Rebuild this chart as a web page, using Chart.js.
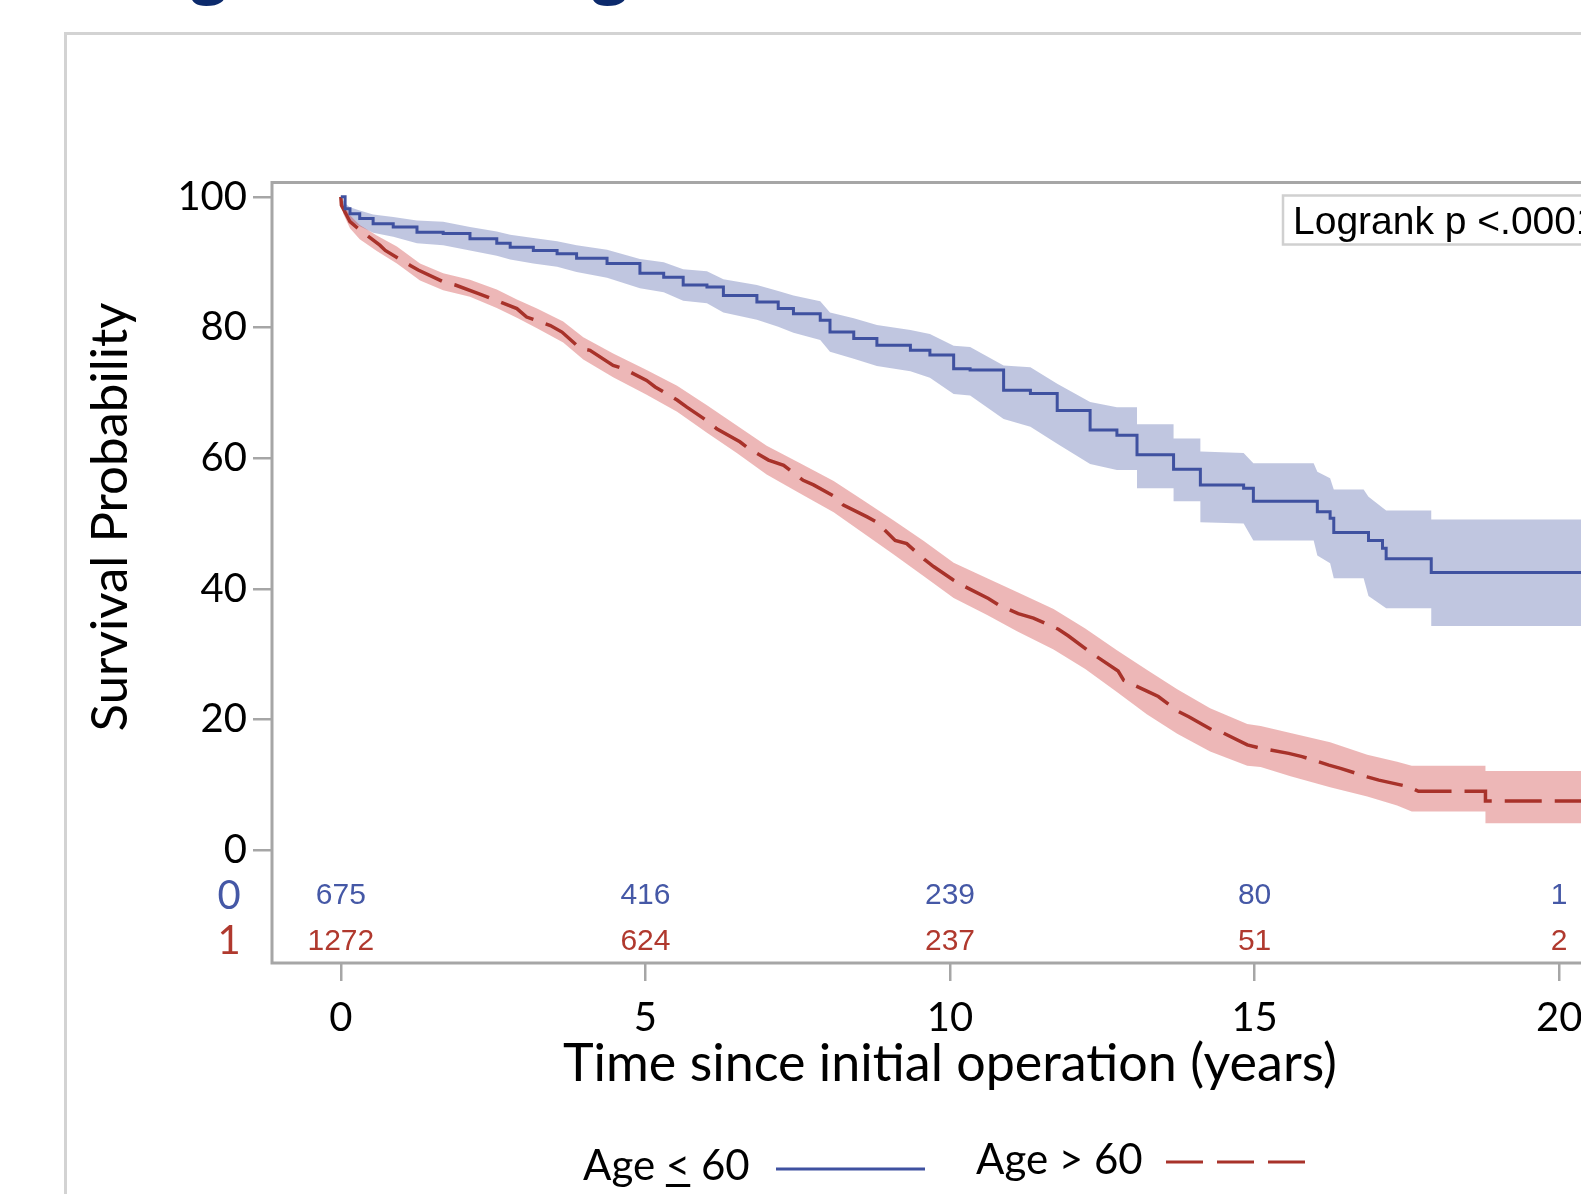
<!DOCTYPE html>
<html>
<head>
<meta charset="utf-8">
<script src="https://cdn.jsdelivr.net/npm/chart.js@4"></script>
<style>
html,body{margin:0;padding:0;background:#fff;overflow:hidden;width:1581px;height:1194px;}
#panel{position:absolute;left:64px;top:32px;width:2000px;height:2000px;border:3px solid #d3d3d3;}
#wrap{position:absolute;left:0;top:0;width:1660px;height:1194px;}
</style>
</head>
<body>
<div id="panel"></div>
<div id="wrap"><canvas id="kmChart" width="1660" height="1194"></canvas></div>
<script>
// Age <= 60 (group 0), step curve
const blueTime=[0,0.07,0.15,0.31,0.53,0.86,1.25,1.68,2.12,2.56,2.78,3.16,3.55,3.87,4.37,4.91,5.30,5.62,6.01,6.28,6.83,7.18,7.43,7.87,8.03,8.42,8.80,9.35,9.67,10.06,10.33,10.88,11.32,11.76,12.30,12.74,13.07,13.67,14.11,14.82,14.98,16.03,16.24,16.30,16.87,17.10,17.16,17.90,21.2];
const blueSurv=[100,98.2,97.4,96.7,95.9,95.4,94.6,94.4,93.6,92.9,92.3,91.8,91.3,90.6,89.8,88.3,87.7,86.5,86.2,84.9,83.9,82.9,82.1,81.1,79.3,78.3,77.3,76.5,75.8,73.7,73.5,70.4,69.9,67.3,64.3,63.5,60.5,58.3,55.9,55.4,53.4,51.8,50.8,48.6,47.4,46.2,44.6,42.5,42.5];
// confidence band, corners given where the steps are wide
const blueBandTime=[0,0.07,0.15,0.31,0.53,0.86,1.25,1.68,2.12,2.56,2.78,3.16,3.55,3.87,4.37,4.91,5.30,5.62,6.01,6.28,6.83,7.18,7.43,7.87,8.03,8.42,8.80,9.35,9.67,10.06,10.33,10.88,11.32,11.76,12.30,12.74,
    13.07,13.07,13.67,13.67,14.11,14.11,14.82,14.98,15.97,16.03,16.24,16.30,16.79,16.87,17.16,17.90,17.90,21.2];
const blueUpper=[100,99.0,98.4,97.9,97.3,96.9,96.4,96.2,95.4,94.7,94.2,93.7,93.2,92.6,91.9,90.5,90.0,88.9,88.6,87.4,86.5,85.6,84.9,84.0,82.3,81.4,80.4,79.6,79.0,77.2,77.0,74.2,73.9,71.4,68.6,67.8,
    67.8,65.2,65.2,63.0,63.0,61.0,60.8,59.2,59.2,57.9,56.9,55.2,55.2,54.1,52.0,52.0,50.6,50.6];
const blueLower=[100,97.3,96.3,95.5,94.5,93.9,92.9,92.6,91.8,91.0,90.4,89.8,89.3,88.5,87.6,86.0,85.4,84.1,83.7,82.3,81.2,80.1,79.2,78.1,76.3,75.2,74.1,73.3,72.3,69.8,69.6,66.0,64.8,62.2,59.1,58.2,
    58.2,55.4,55.4,53.4,53.4,50.2,50.0,47.4,47.4,45.1,43.9,41.6,41.6,38.9,37.0,37.0,34.3,34.3];

// Age > 60 (group 1), many small steps -> read densely
const redTime=[0,0.01,0.15,0.29,0.64,0.73,1.14,1.27,1.68,1.88,2.26,2.48,2.89,3.05,3.44,3.63,3.93,4.09,4.47,4.64,5.02,5.16,5.52,5.68,6.03,6.17,6.55,6.69,7.02,7.27,7.59,7.76,8.11,8.25,8.64,8.80,9.10,9.29,9.59,9.73,10.06,10.25,10.63,10.80,11.12,11.37,11.78,11.94,12.27,12.41,12.76,12.85,13.26,13.42,13.75,13.92,14.30,14.49,14.88,15.09,15.56,15.78,16.22,16.41,16.85,17.04,17.53,17.69,18.79,18.79,21.2];
const redSurv=[100,98.7,96.2,95.1,92.6,91.8,89.5,88.8,87.0,86.5,85.2,84.4,82.9,81.6,80.3,79.3,76.8,76.5,74.2,73.7,71.9,70.9,68.9,67.8,65.6,64.5,62.5,61.5,59.7,58.9,56.6,55.9,54.1,52.8,51.0,50.2,47.4,46.9,44.4,43.4,41.3,40.3,38.5,37.5,36.2,35.5,33.8,32.8,30.5,29.6,27.4,26.0,24.2,23.5,21.2,20.4,18.4,17.9,16.1,15.6,14.8,14.3,13.0,12.5,11.2,10.7,9.7,9.0,9.0,7.5,7.5];
const redBandTime=[0,0.04,0.15,0.31,0.59,0.92,1.30,1.68,2.12,2.56,2.89,3.22,3.65,3.98,4.47,5.02,5.52,6.01,6.50,6.99,7.54,8.09,8.58,9.07,9.57,10.06,10.61,11.10,11.70,12.22,12.74,13.23,13.73,14.27,14.88,15.10,15.59,16.24,16.85,17.34,17.58,18.79,18.79,21.2];
const redUpper=[100,99.0,97.2,95.7,94.1,92.4,89.8,88.3,87.3,85.8,84.3,82.9,80.9,78.5,76.0,73.5,71.1,68.1,65.0,61.9,59.2,56.5,53.5,50.5,47.3,44.0,41.6,39.5,36.9,33.9,30.6,27.6,24.6,21.7,19.3,19.0,17.9,16.5,14.6,13.5,12.9,12.9,12.1,12.1];
const redLower=[100,97.4,95.2,93.5,91.7,89.8,87.2,85.7,84.7,83.0,81.5,79.9,77.7,75.1,72.4,69.7,67.1,63.9,60.8,57.5,54.6,51.7,48.5,45.3,41.9,38.6,36.0,33.5,30.7,27.7,24.2,20.8,17.8,15.1,12.9,12.7,11.3,9.6,8.2,6.8,5.9,5.9,4.1,4.1];

// numbers at risk
const atRiskTimes=[0,5,10,15,20];
const atRiskYoung=[675,416,239,80,1];
const atRiskOld=[1272,624,237,51,2];

const xTicks=[0,5,10,15,20];
const yTicks=[0,20,40,60,80,100];

const BLUE="#3f51a0";
const RED="#a8322a";
const BLUE_BAND="rgba(64,82,160,0.33)";
const RED_BAND="rgba(205,60,60,0.37)";
const BLUE_TXT="#4558a6";
const RED_TXT="#b0392e";
const FRAME="#a6a6a6";

function toPoints(t,v){
    return t.map((x,i)=>({x:x,y:v[i]}));
}

const decor={
    id:'decor',
    afterDatasetsDraw(chart){
        const {ctx,chartArea:a}=chart;
        ctx.save();
        ctx.strokeStyle=FRAME;
        ctx.lineWidth=3;
        ctx.strokeRect(a.left,a.top,a.right-a.left,a.bottom-a.top);
        ctx.restore();
    },
    afterDraw(chart){
        const ctx=chart.ctx;
        const xs=chart.scales.x, ys=chart.scales.y;
        ctx.save();

        // title descenders cut by the top edge
        ctx.fillStyle="#0c2a6c";
        ctx.font='bold 64px "Open Sans"';
        ctx.textAlign='center';
        ctx.textBaseline='alphabetic';
        ctx.fillText('g',209,-10);
        ctx.fillText('g',610,-10);

        // y axis title
        ctx.save();
        ctx.translate(111,517);
        ctx.rotate(-Math.PI/2);
        ctx.fillStyle='#000';
        ctx.font='51px Lato';
        ctx.textAlign='center';
        ctx.textBaseline='middle';
        ctx.fillText('Survival Probability',0,0);
        ctx.restore();

        // at-risk table
        const rowYoung=ys.getPixelForValue(-7.0);
        const rowOld=ys.getPixelForValue(-14.0);
        ctx.textAlign='center';
        ctx.textBaseline='middle';
        ctx.font='30px "Liberation Sans"';
        atRiskTimes.forEach((t,i)=>{
            const px=xs.getPixelForValue(t);
            ctx.fillStyle=BLUE_TXT;
            ctx.fillText(String(atRiskYoung[i]),px,rowYoung);
            ctx.fillStyle=RED_TXT;
            ctx.fillText(String(atRiskOld[i]),px,rowOld);
        });
        ctx.font='40px Lato';
        ctx.fillStyle=BLUE_TXT;
        ctx.fillText('0',229,rowYoung);
        ctx.fillStyle=RED_TXT;
        ctx.fillText('1',229,rowOld);

        // logrank box
        ctx.strokeStyle='#d0d0d0';
        ctx.lineWidth=2.5;
        ctx.fillStyle='#fff';
        ctx.fillRect(1283,195.5,340,49);
        ctx.strokeRect(1283,195.5,340,49);
        ctx.fillStyle='#000';
        ctx.font='39px "Liberation Sans"';
        ctx.textAlign='left';
        ctx.textBaseline='alphabetic';
        ctx.fillText('Logrank p <.0001',1293,234);

        // legend
        ctx.font='42px Lato';
        ctx.fillStyle='#000';
        ctx.fillText('Age < 60',583,1180);
        const wA=ctx.measureText('Age ').width;
        const wL=ctx.measureText('<').width;
        ctx.fillRect(583+wA,1184,wL,3);
        ctx.fillText('Age > 60',976,1174);

        ctx.lineWidth=3;
        ctx.strokeStyle=BLUE;
        ctx.beginPath();
        ctx.moveTo(776,1169);
        ctx.lineTo(925,1169);
        ctx.stroke();

        ctx.strokeStyle=RED;
        ctx.setLineDash([37,14]);
        ctx.beginPath();
        ctx.moveTo(1166,1162);
        ctx.lineTo(1305,1162);
        ctx.stroke();
        ctx.setLineDash([]);

        ctx.restore();
    }
};

const ctx=document.getElementById('kmChart').getContext('2d');

new Chart(ctx,{
    type:'line',
    data:{
        datasets:[
            {label:'Age <= 60',data:toPoints(blueTime,blueSurv),borderColor:BLUE,borderWidth:3,stepped:true,fill:false,order:0},
            {label:'Age > 60',data:toPoints(redTime,redSurv),borderColor:RED,borderWidth:3.5,borderDash:[37,13],fill:false,order:0},
            {label:'upper0',data:toPoints(blueBandTime,blueUpper),borderColor:'rgba(0,0,0,0)',borderWidth:1,backgroundColor:BLUE_BAND,fill:'+1',order:2},
            {label:'lower0',data:toPoints(blueBandTime,blueLower),borderColor:'rgba(0,0,0,0)',borderWidth:1,fill:false,order:2},
            {label:'upper1',data:toPoints(redBandTime,redUpper),borderColor:'rgba(0,0,0,0)',borderWidth:1,backgroundColor:RED_BAND,fill:'+1',order:1},
            {label:'lower1',data:toPoints(redBandTime,redLower),borderColor:'rgba(0,0,0,0)',borderWidth:1,fill:false,order:1}
        ]
    },
    options:{
        responsive:false,
        animation:false,
        layout:{padding:{top:182.5,right:32,left:0,bottom:0}},
        elements:{point:{radius:0},line:{tension:0}},
        plugins:{legend:{display:false},tooltip:{enabled:false}},
        scales:{
            x:{
                type:'linear',
                min:-1.13,
                max:21.13,
                afterBuildTicks:function(scale){
                    scale.ticks=xTicks.map(v=>({value:v}));
                },
                afterFit:function(scale){
                    scale.height=231;
                },
                border:{display:false},
                grid:{drawOnChartArea:false,drawTicks:true,tickLength:18,color:FRAME,lineWidth:2.5},
                ticks:{color:'#000',font:{family:'Lato',size:40},padding:13,maxRotation:0},
                title:{display:true,text:'Time since initial operation (years)',color:'#000',font:{family:'Lato',size:52},padding:{top:0,bottom:99}}
            },
            y:{
                type:'linear',
                min:-17.3,
                max:102.2,
                afterBuildTicks:function(scale){
                    scale.ticks=yTicks.map(v=>({value:v}));
                },
                afterFit:function(scale){
                    scale.width=272;
                },
                border:{display:false},
                grid:{drawOnChartArea:false,drawTicks:true,tickLength:19,color:FRAME,lineWidth:2.5},
                ticks:{color:'#000',font:{family:'Lato',size:40},padding:6}
            }
        }
    },
    plugins:[decor]
});
</script>
</body>
</html>
